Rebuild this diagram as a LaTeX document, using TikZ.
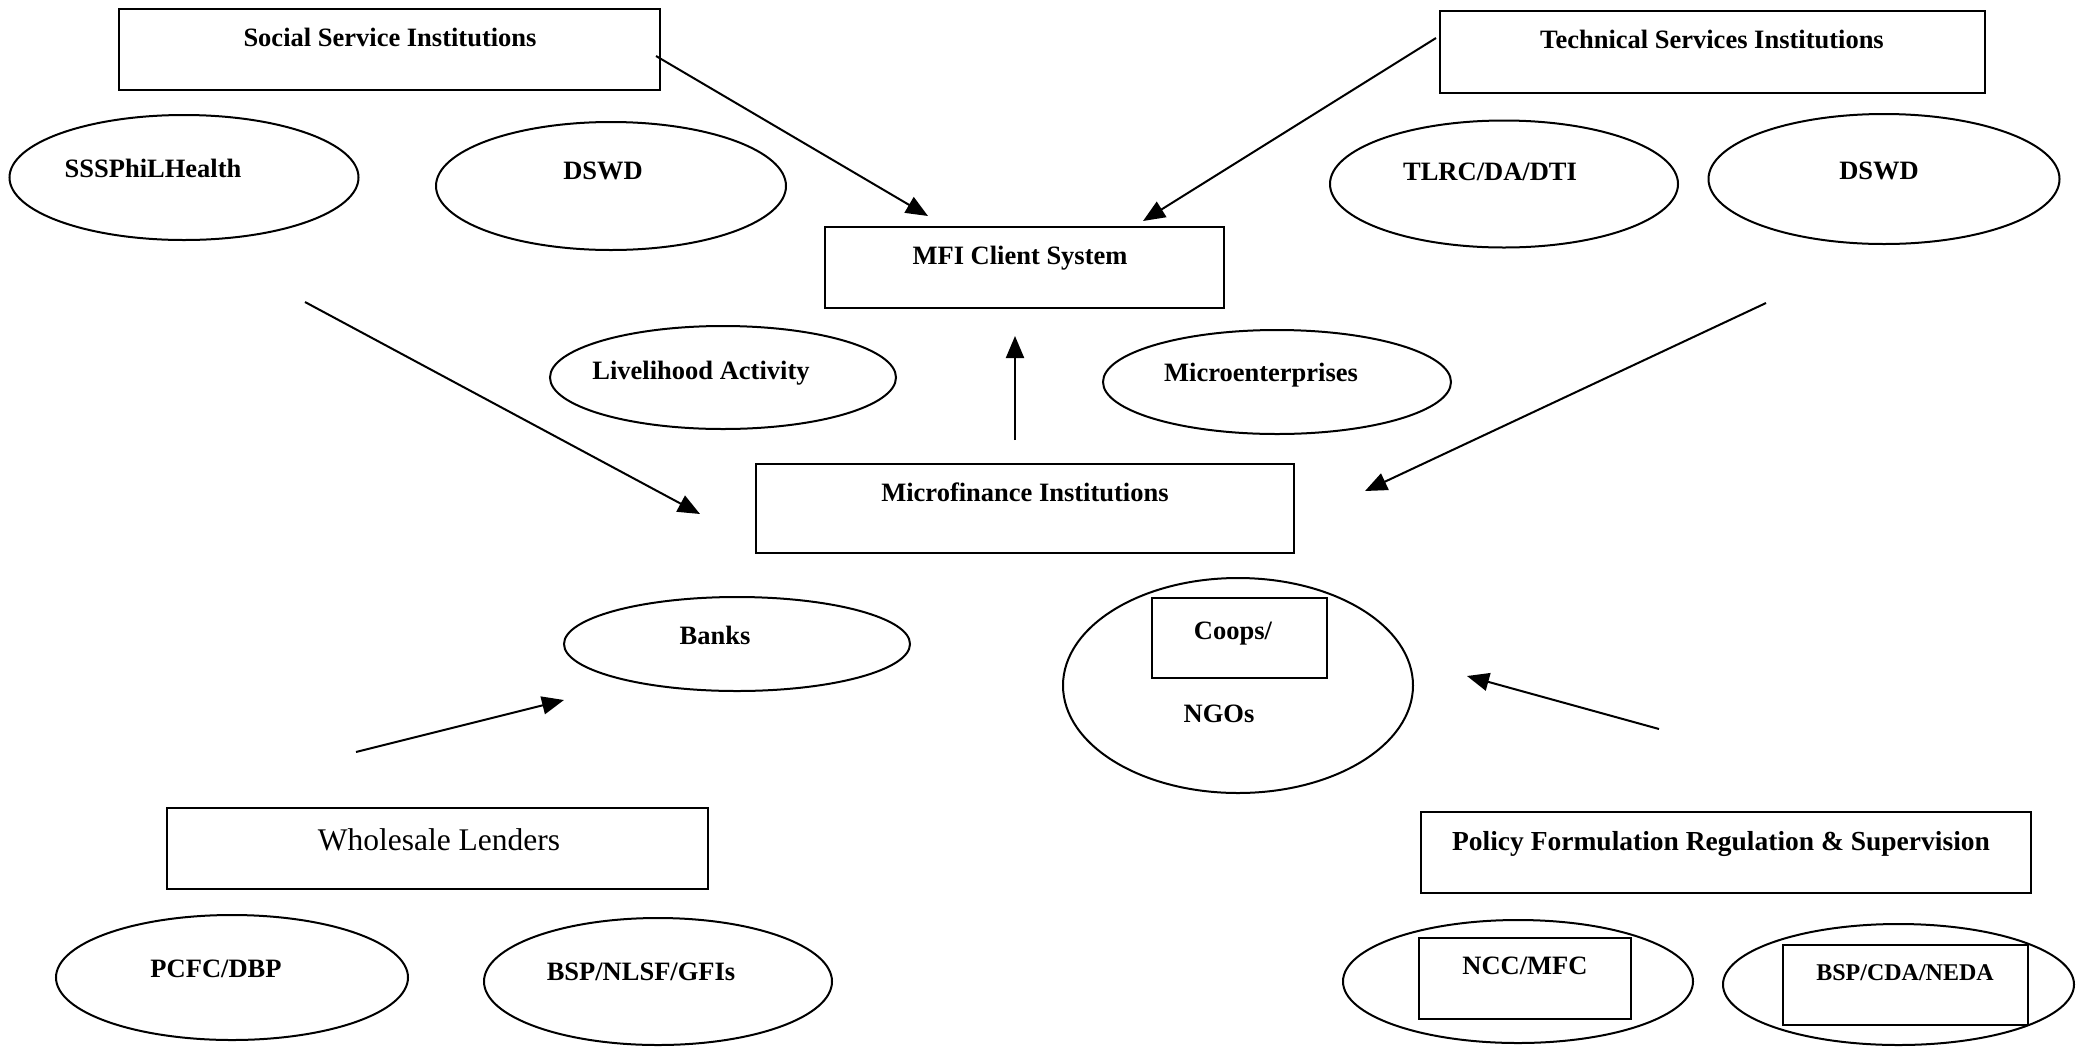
\documentclass[tikz,border=0pt]{standalone}
\usepackage{fontspec}
\setmainfont{Liberation Serif}
\usetikzlibrary{shapes.geometric,arrows.meta}
\begin{document}
\begin{tikzpicture}[x=1pt,y=-1pt,
  box/.style={draw, line width=2pt, rectangle, inner sep=0pt, outer sep=0pt},
  oval/.style={draw, line width=2pt, ellipse, inner sep=0pt, outer sep=0pt},
  lbl/.style={font=\fontsize{26.5}{30}\selectfont\bfseries, anchor=base, inner sep=0pt},
  conn/.style={line width=2pt, -{Triangle[length=22pt,width=18pt]}}
]
\fill[white] (0,0) rectangle (2080,1053);
\useasboundingbox (0,0) rectangle (2080,1053);

% boxes
\node[box, minimum width=541pt, minimum height=81pt] (soc) at (389.5,49.5) {};
\node[box, minimum width=545pt, minimum height=82pt] (tech) at (1712.5,52) {};
\node[box, minimum width=399pt, minimum height=81pt] (mfi) at (1024.5,267.5) {};
\node[box, minimum width=538pt, minimum height=89pt] (mfin) at (1025,508.5) {};
\node[box, minimum width=541pt, minimum height=81pt] (whole) at (437.5,848.5) {};
\node[box, minimum width=610pt, minimum height=81pt] (policy) at (1726,852.5) {};

% ellipses
\node[oval, minimum width=349pt, minimum height=125pt] (sss) at (184,177.5) {};
\node[oval, minimum width=350pt, minimum height=128pt] (dswdA) at (611,186) {};
\node[oval, minimum width=348pt, minimum height=127pt] (tlrc) at (1504,184) {};
\node[oval, minimum width=351pt, minimum height=130pt] (dswdB) at (1884,179) {};
\node[oval, minimum width=346pt, minimum height=103pt] (live) at (723,377.5) {};
\node[oval, minimum width=348pt, minimum height=104pt] (micro) at (1277,382) {};
\node[oval, minimum width=346pt, minimum height=94pt] (banks) at (737,644) {};
\node[oval, minimum width=350pt, minimum height=215pt] (coops) at (1238,685.5) {};
\node[oval, minimum width=352pt, minimum height=125pt] (pcfc) at (232,977.5) {};
\node[oval, minimum width=348pt, minimum height=127pt] (bspn) at (658,981.5) {};
\node[oval, minimum width=350pt, minimum height=123pt] (ncc) at (1518,981.5) {};
\node[oval, minimum width=351pt, minimum height=121pt] (bspc) at (1898.5,984.5) {};

% inner boxes
\node[box, minimum width=175pt, minimum height=80pt] (coopsbox) at (1239.5,638) {};
\node[box, minimum width=212pt, minimum height=81pt] (nccbox) at (1525,978.5) {};
\node[box, minimum width=245pt, minimum height=80pt] (bspcbox) at (1905.5,985) {};

% texts
\node[lbl] (tsoc) at (390,46) {Social Service Institutions};
\node[lbl] (ttech) at (1712,48) {Technical Services Institutions};
\node[lbl] (tsss) at (153,177) {SSSPhiLHealth};
\node[lbl] (tdswdA) at (603,179) {DSWD};
\node[lbl] (ttlrc) at (1490,180) {TLRC/DA/DTI};
\node[lbl] (tdswdB) at (1879,179) {DSWD};
\node[lbl] (tmfi) at (1020,264) {MFI Client System};
\node[lbl] (tlive) at (701,379) {Livelihood Activity};
\node[lbl] (tmicro) at (1261,381) {Microenterprises};
\node[lbl] (tmfin) at (1025,501) {Microfinance Institutions};
\node[lbl] (tbanks) at (715,644) {Banks};
\node[lbl] (tcoops) at (1233,639) {Coops/};
\node[lbl] (tngos) at (1219,722) {NGOs};
\node[lbl, font=\fontsize{31.5}{36}\selectfont] (twhole) at (439,850) {Wholesale Lenders};
\node[lbl, font=\fontsize{27.5}{32}\selectfont\bfseries] (tpolicy) at (1721,850) {Policy Formulation Regulation \& Supervision};
\node[lbl] (tpcfc) at (216,977) {PCFC/DBP};
\node[lbl] (tbspn) at (641,980) {BSP/NLSF/GFIs};
\node[lbl] (tncc) at (1525,974) {NCC/MFC};
\node[lbl, font=\fontsize{24}{28}\selectfont\bfseries] (tbspc) at (1905,980) {BSP/CDA/NEDA};

% connector end points
\coordinate (a1s) at (656,56);   \coordinate (a1e) at (928,216);
\coordinate (a2s) at (1436,38);  \coordinate (a2e) at (1143,221);
\coordinate (a3s) at (305,302);  \coordinate (a3e) at (700,514);
\coordinate (a4s) at (1766,303); \coordinate (a4e) at (1365,491);
\coordinate (a5s) at (1015,440); \coordinate (a5e) at (1015,336);
\coordinate (a6s) at (356,752);  \coordinate (a6e) at (564,700);
\coordinate (a7s) at (1659,729); \coordinate (a7e) at (1467,676);

\draw[conn] (a1s) -- (a1e);
\draw[conn] (a2s) -- (a2e);
\draw[conn] (a3s) -- (a3e);
\draw[conn] (a4s) -- (a4e);
\draw[conn] (a5s) -- (a5e);
\draw[conn] (a6s) -- (a6e);
\draw[conn] (a7s) -- (a7e);
\end{tikzpicture}
\end{document}
